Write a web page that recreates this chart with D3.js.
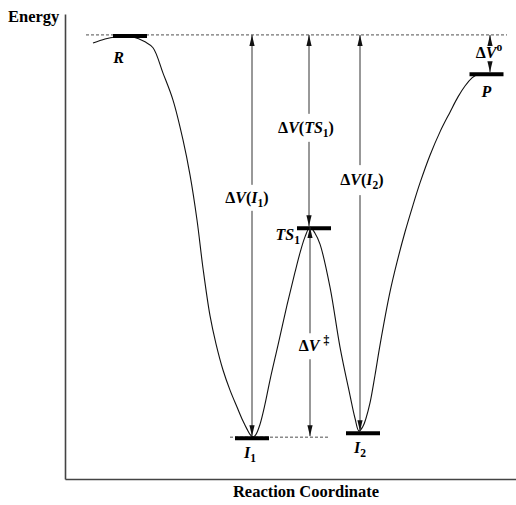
<!DOCTYPE html>
<html>
<head>
<meta charset="utf-8">
<script src="https://cdn.jsdelivr.net/npm/d3@7"></script>
<style>
  body { margin: 0; background: #fff; }
  svg { display: block; }
  svg text { font-family: 'Liberation Serif', 'Times New Roman', Times, serif; }
</style>
</head>
<body>
<svg id="chart" width="516" height="505"></svg>
<script>
// Potential energy profile along the reaction coordinate (arbitrary units, R = 0)
const curveX = [28, 40, 50, 68, 80, 88, 98, 108, 118, 125, 132, 138, 145, 151, 158, 165, 172, 178, 182, 185,
  188, 191, 195, 200, 205, 213, 222, 230, 235, 240, 245, 250, 255, 265, 275, 285, 290, 294, 298, 301,
  305, 310, 315, 325, 332, 340, 348, 355, 365, 375, 385, 393, 400, 407, 413];
const curveE = [-2.0, -1.0, -0.5, -0.5, -1.7, -3.2, -9.5, -16.2, -26.1, -34.8, -46.0, -58.0, -69.8, -76.8, -83.3, -88.3, -92.5, -96.0, -98.0, -99.3,
  -100, -99.3, -96.8, -91.8, -85.8, -77.1, -67.2, -59.0, -54.2, -50.2, -47.8, -49.3, -52.0, -62.7, -77.6, -89.6, -95.3, -98.5, -97.3, -95.3,
  -91.5, -84.6, -77.1, -63.9, -56.5, -49.0, -42.3, -36.8, -29.9, -24.1, -19.2, -15.4, -12.7, -10.7, -9.7];

// Stationary points: {..} = italic, _x = subscript, ^x = superscript
const levelNames = ['{R}', '{TS}_1', '{I}_1', '{I}_2', '{P}'];
const levelX = [65, 249, 187, 298, 421.5];
const levelE = [0, -47.8, -100, -98.8, -9.5];

// Energy difference arrows
const arrowNames = ['Δ{V}({I}_1)', 'Δ{V}({TS}_1)', 'Δ{V}({I}_2)', 'Δ{V} ^‡', 'Δ{V}^o'];
const arrowX = [187, 244, 295, 245, 425];
const arrowFrom = [0, 0, 0, -47.8, 0];
const arrowTo = [-100, -47.8, -98.8, -100, -9.5];
const arrowLabelE = [-40.5, -23.1, -36.1, -77.4, -4.5];

const svg = d3.select('#chart');

const x = d3.scaleLinear().domain([0, 451]).range([65, 516]);
const y = d3.scaleLinear().domain([-110.4, 5.2]).range([479, 14]);

// arrowhead marker
svg.append('defs').append('marker')
  .attr('id', 'head')
  .attr('viewBox', '0 -3 11 6')
  .attr('refX', 11).attr('refY', 0)
  .attr('markerUnits', 'userSpaceOnUse')
  .attr('markerWidth', 11).attr('markerHeight', 6)
  .attr('orient', 'auto-start-reverse')
  .append('path')
  .attr('d', 'M0,-2.6L11,0L0,2.6Z')
  .attr('fill', '#111');

// axes (lines only)
svg.append('g')
  .attr('transform', `translate(${x(0)},0)`)
  .call(d3.axisLeft(y).ticks(0).tickSizeOuter(0))
  .call(g => g.select('.domain').attr('stroke', '#444').attr('stroke-width', 1.6));
svg.append('g')
  .attr('transform', `translate(0,${y.range()[0]})`)
  .call(d3.axisBottom(x).ticks(0).tickSizeOuter(0))
  .call(g => g.select('.domain').attr('stroke', '#444').attr('stroke-width', 1.6));

// reference dashed lines
svg.append('line')
  .attr('x1', x(21)).attr('x2', x(442))
  .attr('y1', y(0)).attr('y2', y(0))
  .attr('stroke', '#222').attr('stroke-width', 0.8).attr('stroke-dasharray', '3,2');
svg.append('line')
  .attr('x1', x(165)).attr('x2', x(263))
  .attr('y1', y(-100)).attr('y2', y(-100))
  .attr('stroke', '#222').attr('stroke-width', 0.8).attr('stroke-dasharray', '3,2');

// energy profile
const pts = curveX.map((d, i) => [d, curveE[i]]);
svg.append('path')
  .datum(pts)
  .attr('fill', 'none')
  .attr('stroke', '#111')
  .attr('stroke-width', 1.1)
  .attr('d', d3.line().x(d => x(d[0])).y(d => y(d[1])).curve(d3.curveCatmullRom.alpha(0.5)));

// rich text helper
function richText(sel, src) {
  const re = /\{([^}]*)\}|_(.)|\^(.)|([^{_^]+)/g;
  let m, shift = 0;
  while ((m = re.exec(src)) !== null) {
    let txt, italic = false, target = 0, small = false;
    if (m[1] !== undefined) { txt = m[1]; italic = true; }
    else if (m[2] !== undefined) { txt = m[2]; target = 4; small = true; }
    else if (m[3] !== undefined) { txt = m[3]; target = -7; small = true; }
    else txt = m[4];
    sel.append('tspan')
      .attr('dy', target - shift)
      .attr('font-style', italic ? 'italic' : 'normal')
      .attr('font-size', small ? '0.72em' : null)
      .text(txt);
    shift = target;
  }
}

const serif = "'Liberation Serif', 'Times New Roman', Times, serif";

// level bars and labels
const levelLabelOff = [[-11.5, 28, 'middle'], [-14, 13, 'end'], [-2, 21, 'middle'], [-3, 21, 'middle'], [0, 24, 'middle']];
levelNames.forEach((name, i) => {
  svg.append('line')
    .attr('x1', x(levelX[i]) - 17).attr('x2', x(levelX[i]) + 17)
    .attr('y1', y(levelE[i]) + 1).attr('y2', y(levelE[i]) + 1)
    .attr('stroke', '#000').attr('stroke-width', 4);
  const t = svg.append('text')
    .attr('x', x(levelX[i]) + levelLabelOff[i][0])
    .attr('y', y(levelE[i]) + levelLabelOff[i][1])
    .attr('text-anchor', levelLabelOff[i][2])
    .attr('font-family', serif)
    .attr('font-size', 16)
    .attr('font-weight', 'bold');
  richText(t, name);
});

// arrows with a gap for the label
const arrowLabelDx = [-5, -3, 2, 4, -1];
const gapHalf = [13, 14, 15, 13, 9];
arrowNames.forEach((name, i) => {
  const ax = x(arrowX[i]);
  const ly = y(arrowLabelE[i]);
  svg.append('line')
    .attr('x1', ax).attr('x2', ax)
    .attr('y1', ly - gapHalf[i]).attr('y2', y(arrowFrom[i]))
    .attr('stroke', '#333').attr('stroke-width', 1)
    .attr('marker-end', 'url(#head)');
  svg.append('line')
    .attr('x1', ax).attr('x2', ax)
    .attr('y1', ly + gapHalf[i]).attr('y2', y(arrowTo[i]) - 1)
    .attr('stroke', '#333').attr('stroke-width', 1)
    .attr('marker-end', 'url(#head)');
  const t = svg.append('text')
    .attr('x', ax + arrowLabelDx[i])
    .attr('y', ly + 5)
    .attr('text-anchor', 'middle')
    .attr('font-family', serif)
    .attr('font-size', 16)
    .attr('font-weight', 'bold');
  richText(t, name);
});

// axis titles
svg.append('text')
  .attr('x', 8).attr('y', 22)
  .attr('font-family', serif)
  .attr('font-size', 16.5).attr('font-weight', 'bold')
  .text('Energy');
svg.append('text')
  .attr('x', 306).attr('y', 497)
  .attr('text-anchor', 'middle')
  .attr('font-family', serif)
  .attr('font-size', 16.5).attr('font-weight', 'bold')
  .text('Reaction Coordinate');
</script>
</body>
</html>
